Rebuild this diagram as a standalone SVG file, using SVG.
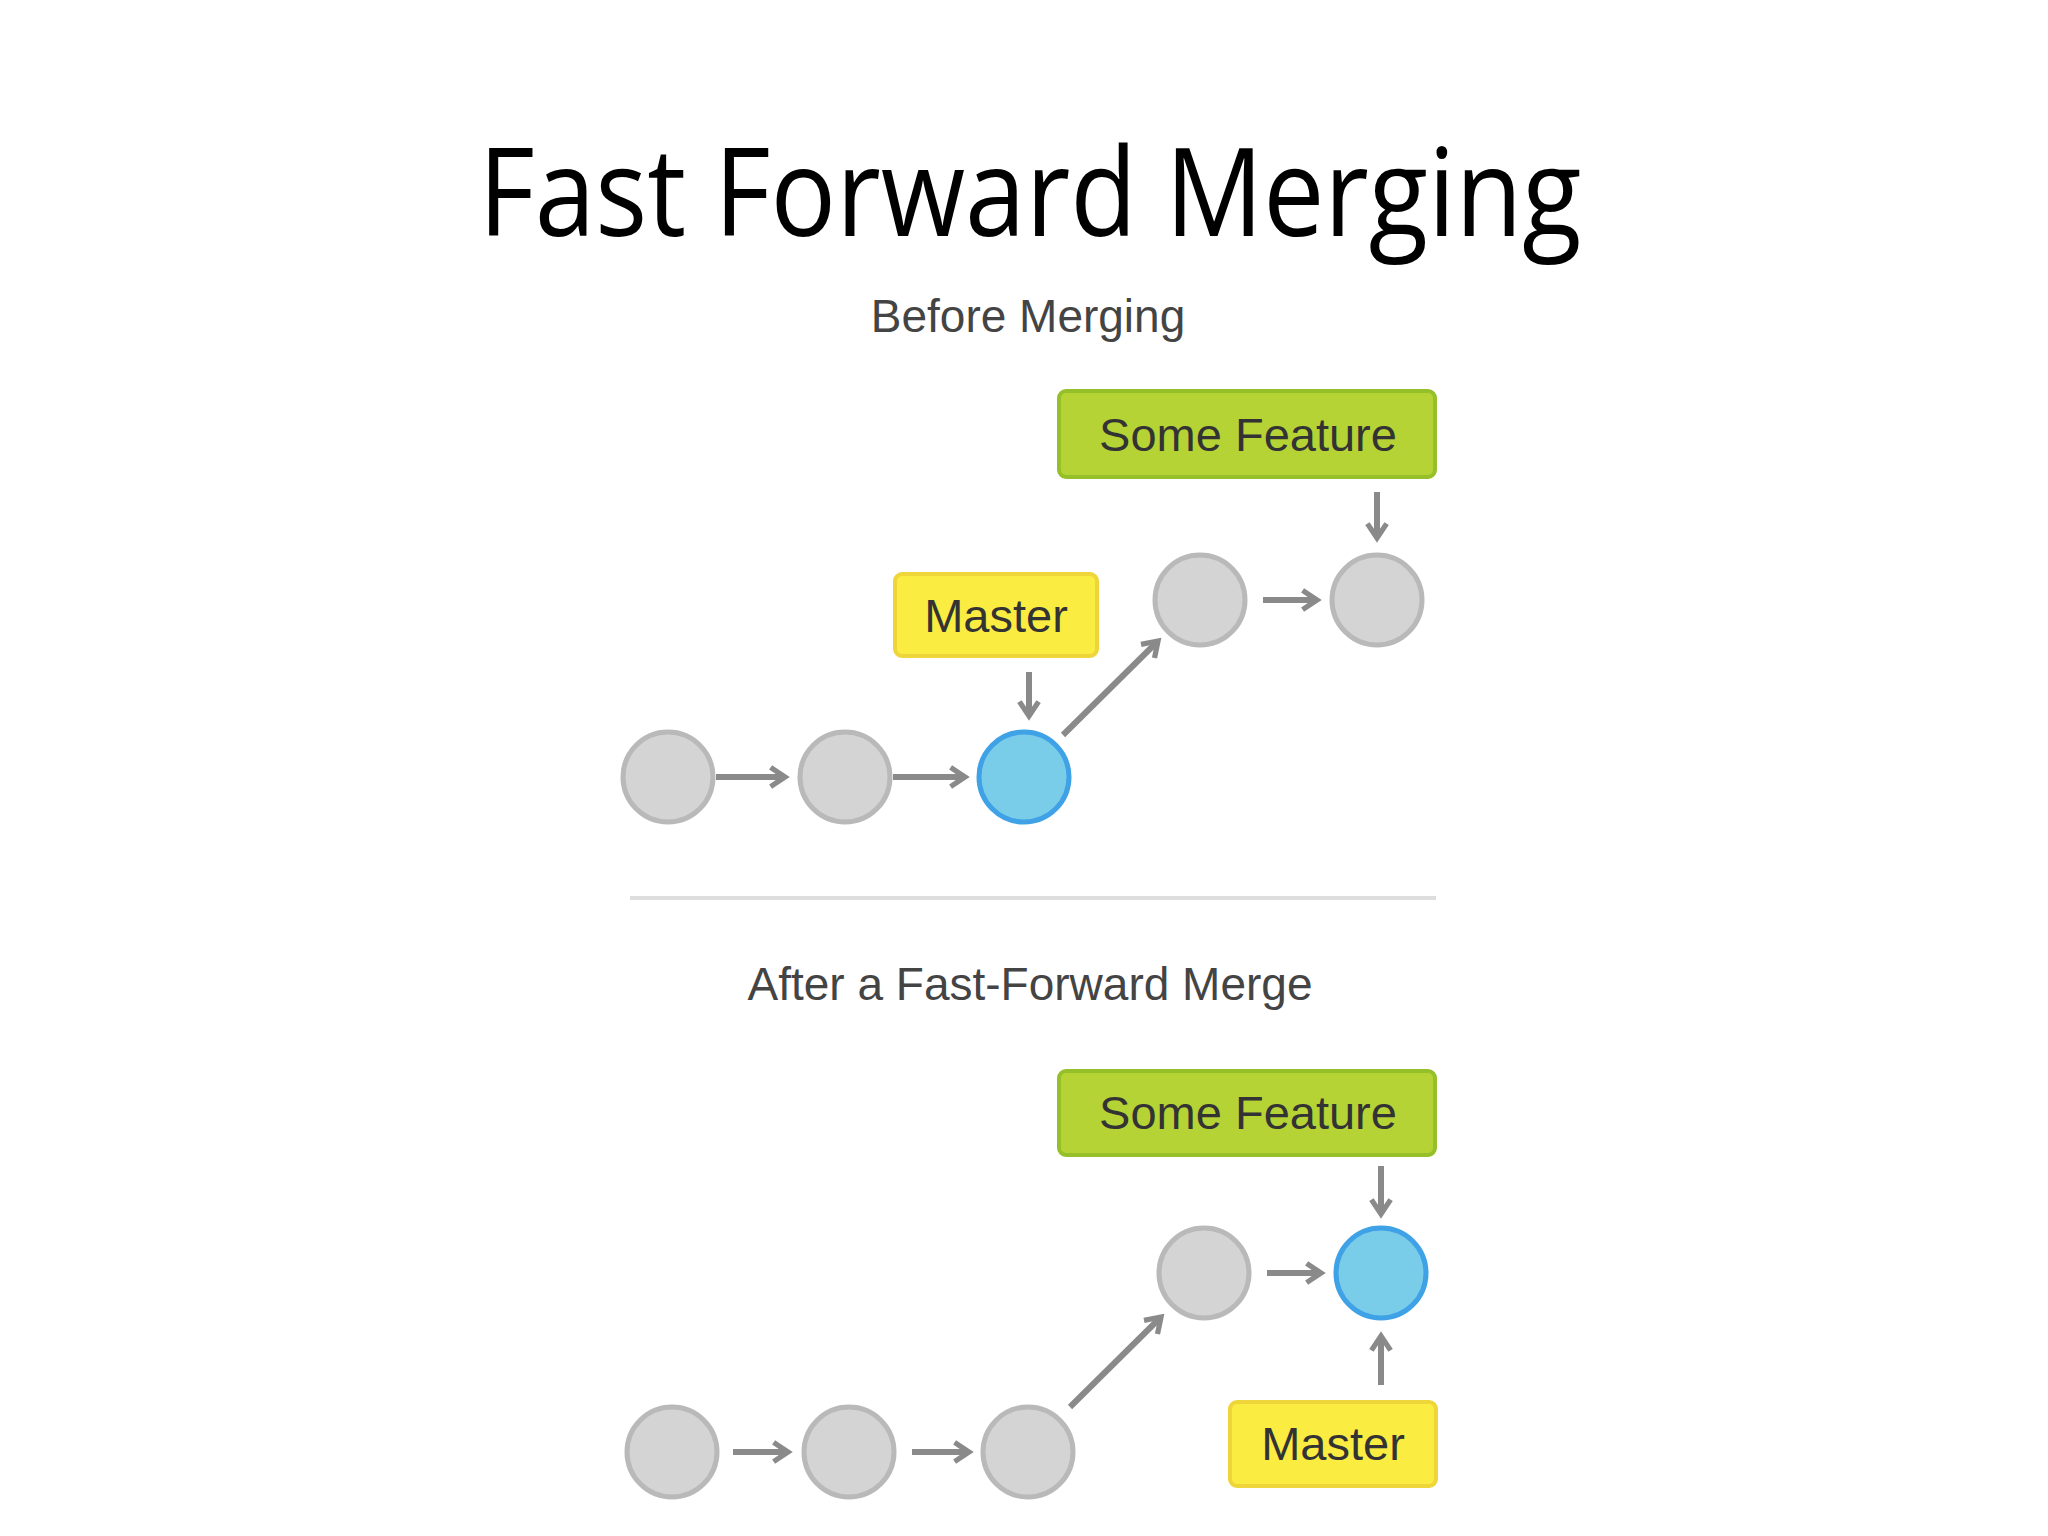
<svg xmlns="http://www.w3.org/2000/svg" width="2048" height="1536" viewBox="0 0 2048 1536">
<style>
.c{fill:#d4d4d4;stroke:#b9b9b9;stroke-width:5}
.b{fill:#7acde8;stroke:#3fa2e6;stroke-width:5}
.g{fill:#b6d336;stroke:#95c02a;stroke-width:4}
.y{fill:#fbec42;stroke:#eed53a;stroke-width:4}
.a{stroke:#8a8a8a;stroke-width:6;fill:none;marker-end:url(#m)}
.lt{font-family:"Liberation Sans",Arial,sans-serif;font-size:47px;fill:#333;text-anchor:middle}
.st{font-family:"Liberation Sans",Arial,sans-serif;font-size:46px;fill:#444;text-anchor:middle}
</style>
<defs>
<marker id="m" viewBox="0 0 10 10" refX="8" refY="5" markerWidth="4" markerHeight="4" orient="auto" markerUnits="strokeWidth">
<path d="M2,1 L8,5 L2,9" fill="none" stroke="#8a8a8a" stroke-width="2.2"/>
</marker>
</defs>
<rect width="2048" height="1536" fill="#fff"/>
<text x="1030" y="236" font-family="Open Sans,sans-serif" font-size="122" text-anchor="middle" fill="#000" textLength="1103" lengthAdjust="spacingAndGlyphs">Fast Forward Merging</text>
<text class="st" x="1028" y="332">Before Merging</text>
<line x1="630" y1="898" x2="1436" y2="898" stroke="#dedede" stroke-width="4"/>
<text class="st" x="1030" y="1000">After a Fast-Forward Merge</text>
<g id="connectors">
<line class="a" x1="716" y1="777" x2="785" y2="777"/>
<line class="a" x1="893" y1="777" x2="965" y2="777"/>
<line class="a" x1="1063" y1="735" x2="1158" y2="641"/>
<line class="a" x1="1263" y1="600" x2="1317" y2="600"/>
<line class="a" x1="1029" y1="672" x2="1029" y2="716"/>
<line class="a" x1="1377" y1="492" x2="1377" y2="538"/>
<line class="a" x1="733" y1="1452" x2="788" y2="1452"/>
<line class="a" x1="912" y1="1452" x2="969" y2="1452"/>
<line class="a" x1="1070" y1="1407" x2="1161" y2="1317"/>
<line class="a" x1="1267" y1="1273" x2="1321" y2="1273"/>
<line class="a" x1="1381" y1="1166" x2="1381" y2="1214"/>
<line class="a" x1="1381" y1="1385" x2="1381" y2="1336"/>
</g>
<g id="t1"><circle class="c" cx="668" cy="777" r="45"/></g>
<g id="t2"><circle class="c" cx="845" cy="777" r="45"/></g>
<g id="t3"><circle class="b" cx="1024" cy="777" r="45"/></g>
<g id="t4"><circle class="c" cx="1200" cy="600" r="45"/></g>
<g id="t5"><circle class="c" cx="1377" cy="600" r="45"/></g>
<g id="tmaster"><rect class="y" x="895" y="574" width="202" height="82" rx="7"/><text class="lt" x="996" y="632">Master</text></g>
<g id="tfeature"><rect class="g" x="1059" y="391" width="376" height="86" rx="7"/><text class="lt" x="1248" y="451">Some Feature</text></g>
<g id="b1"><circle class="c" cx="672" cy="1452" r="45"/></g>
<g id="b2"><circle class="c" cx="849" cy="1452" r="45"/></g>
<g id="b3"><circle class="c" cx="1028" cy="1452" r="45"/></g>
<g id="b4"><circle class="c" cx="1204" cy="1273" r="45"/></g>
<g id="b5"><circle class="b" cx="1381" cy="1273" r="45"/></g>
<g id="bfeature"><rect class="g" x="1059" y="1071" width="376" height="84" rx="7"/><text class="lt" x="1248" y="1129">Some Feature</text></g>
<g id="bmaster"><rect class="y" x="1230" y="1402" width="206" height="84" rx="7"/><text class="lt" x="1333" y="1460">Master</text></g>
</svg>
